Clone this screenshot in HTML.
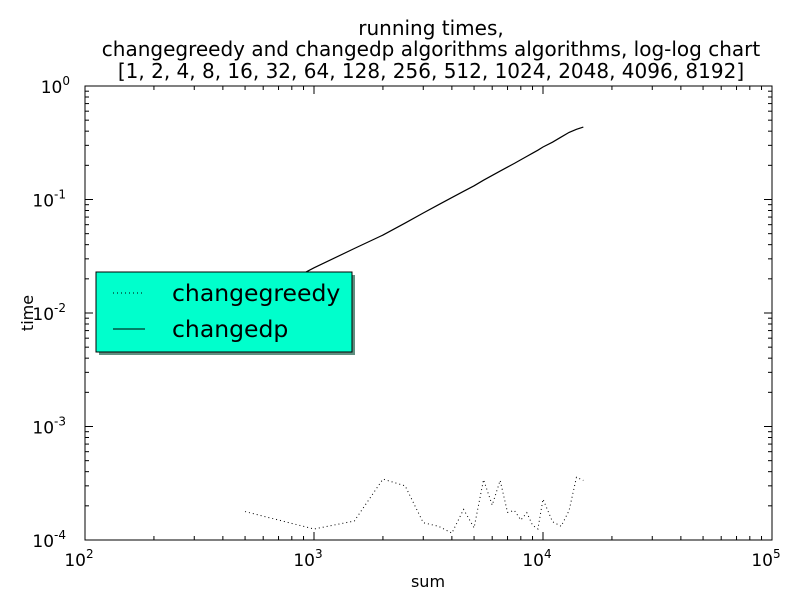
<!DOCTYPE html>
<html><head><meta charset="utf-8"><style>
body{margin:0;background:#fff;}
svg{display:block;font-family:"DejaVu Sans","Liberation Sans",sans-serif;}
</style></head><body>
<svg id="chart" width="812" height="612" xmlns="http://www.w3.org/2000/svg">
<rect width="812" height="612" fill="#fff"/>
<g font-size="20" text-anchor="middle">
<text x="431" y="35">running times,</text>
<text x="431" y="56">changegreedy and changedp algorithms algorithms, log-log chart</text>
<text x="431" y="78">[1, 2, 4, 8, 16, 32, 64, 128, 256, 512, 1024, 2048, 4096, 8192]</text>
</g>
<rect x="85" y="86" width="687" height="454" fill="#fff" stroke="#000"/>
<g id="ticks"></g>
<g id="series"></g>
<text x="428" y="587" font-size="16" text-anchor="middle">sum</text>
<text x="33" y="313" font-size="16" text-anchor="middle" transform="rotate(-90 33 313)">time</text>
<g>
<rect x="99" y="275" width="256" height="80" fill="#5f8f80"/>
<rect x="96" y="272" width="256" height="80" fill="#00ffcc" stroke="#000"/>
<line x1="113" y1="293" x2="145" y2="293" stroke="#000" stroke-dasharray="1,3"/>
<text x="172" y="301" font-size="23.5">changegreedy</text>
<line x1="113" y1="329" x2="145" y2="329" stroke="#000"/>
<text x="172" y="337" font-size="23.5">changedp</text>
</g>
</svg>
<script>
const sums=[500,1000,1500,2000,2500,3000,3500,4000,4500,5000,5500,6000,6500,7000,7500,8000,8500,9000,9500,10000,11000,12000,13000,14000,15000];
const greedyTimes=[1.78e-4,1.25e-4,1.47e-4,3.44e-4,3.0e-4,1.42e-4,1.32e-4,1.15e-4,1.86e-4,1.28e-4,3.4e-4,2.03e-4,3.35e-4,1.75e-4,1.82e-4,1.5e-4,1.74e-4,1.35e-4,1.25e-4,2.29e-4,1.45e-4,1.32e-4,1.82e-4,3.57e-4,3.35e-4];
const dpTimes=[0.012,0.025,0.037,0.0486,0.062,0.076,0.090,0.104,0.118,0.132,0.148,0.163,0.178,0.193,0.208,0.224,0.240,0.256,0.272,0.29,0.32,0.355,0.39,0.415,0.435];
const xDecades=[2,3,4,5];
const yDecades=[-4,-3,-2,-1,0];
const X0=85,X1=772,Y0=540,Y1=86;
function xs(v){return X0+(Math.log10(v)-2)/3*(X1-X0);}
function ys(v){return Y0-(Math.log10(v)+4)/4*(Y0-Y1);}
const NS="http://www.w3.org/2000/svg";
function mk(tag,attrs,parent){const e=document.createElementNS(NS,tag);for(const k in attrs)e.setAttribute(k,attrs[k]);parent.appendChild(e);return e;}
const tg=document.getElementById('ticks');
xDecades.forEach(d=>{
  const x=xs(Math.pow(10,d));
  mk('line',{x1:x,y1:Y0,x2:x,y2:Y0-8,stroke:'#000'},tg);
  mk('line',{x1:x,y1:Y1,x2:x,y2:Y1+8,stroke:'#000'},tg);
  const t=mk('text',{x:x-6,y:566,'font-size':17,'text-anchor':'middle'},tg);
  
  
  t.textContent='10';
  const s=mk('tspan',{dy:-8,'font-size':12},t);s.textContent=d;
  if(d<5)for(let m=2;m<10;m++){const xm=xs(m*Math.pow(10,d));
    mk('line',{x1:xm,y1:Y0,x2:xm,y2:Y0-4,stroke:'#000'},tg);
    mk('line',{x1:xm,y1:Y1,x2:xm,y2:Y1+4,stroke:'#000'},tg);}
});
yDecades.forEach(d=>{
  const y=ys(Math.pow(10,d));
  mk('line',{x1:X0,y1:y,x2:X0+8,y2:y,stroke:'#000'},tg);
  mk('line',{x1:X1,y1:y,x2:X1-8,y2:y,stroke:'#000'},tg);
  const t=mk('text',{x:d<0?66:70,y:y+7,'font-size':17,'text-anchor':'end'},tg);
  
  
  t.textContent='10';
  const s=mk('tspan',{dy:-8,'font-size':12},t);s.textContent=d;
  if(d<0)for(let m=2;m<10;m++){const ym=ys(m*Math.pow(10,d));
    mk('line',{x1:X0,y1:ym,x2:X0+4,y2:ym,stroke:'#000'},tg);
    mk('line',{x1:X1,y1:ym,x2:X1-4,y2:ym,stroke:'#000'},tg);}
});
const sg=document.getElementById('series');
const gp=mk('polyline',{points:sums.map((s,i)=>xs(s)+','+ys(greedyTimes[i])).join(' '),fill:'none',stroke:'#000','stroke-dasharray':'1,3'},sg);


const dp=mk('polyline',{points:sums.map((s,i)=>xs(s)+','+ys(dpTimes[i])).join(' '),fill:'none',stroke:'#000','stroke-width':1.2},sg);


</script>
</body></html>
